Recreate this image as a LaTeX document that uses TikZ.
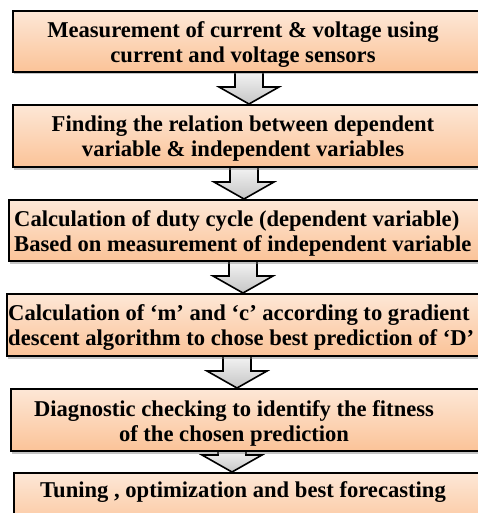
\documentclass[tikz,border=0pt]{standalone}
\usepackage{fontspec}
\setmainfont{Liberation Serif}
\usetikzlibrary{positioning,calc,backgrounds,shadows}
\definecolor{boxTop}{HTML}{FDE7D6}
\definecolor{boxBot}{HTML}{FBC398}

% block arrow from the bottom of #2 to the top of #3, centred at x=#1
\newcommand{\stepArrow}[3]{%
  \path (#1,0 |- #2.south) coordinate (at) (#1,0 |- #3.north) coordinate (ab);
  \draw[flowarr] ([xshift=-14pt,yshift=2pt]at) -- ([xshift=-14pt,yshift=17pt]ab)
    -- ([xshift=-30pt,yshift=17pt]ab) -- (ab) -- ([xshift=30pt,yshift=17pt]ab)
    -- ([xshift=14pt,yshift=17pt]ab) -- ([xshift=14pt,yshift=2pt]at);}

\begin{document}
\begin{tikzpicture}[x=1pt, y=1pt,
  stepbox/.style={draw=black,line width=2pt,top color=boxTop,bottom color=boxBot,anchor=north west,inner sep=0pt,
    drop shadow={shadow xshift=0.5pt,shadow yshift=-2.5pt,opacity=.45}},
  steptext/.style={font=\bfseries\fontsize{22.6}{25}\selectfont,inner sep=0pt,align=center,yshift=-3pt},
  flowarr/.style={draw=black,line width=1.6pt,top color=gray!8,bottom color=gray!45,line join=miter}]
  \useasboundingbox (0,0) rectangle (477,-513);
  % boxes
  \node[stepbox,minimum width=478pt,minimum height=61pt] (b1) at (12,-10) {};
  \node[stepbox,minimum width=478pt,minimum height=62pt] (b2) at (12,-104) {};
  \node[stepbox,minimum width=482pt,minimum height=61pt] (b3) at (8,-199) {};
  \node[stepbox,minimum width=484pt,minimum height=62pt] (b4) at (6,-293) {};
  \node[stepbox,minimum width=480pt,minimum height=62pt] (b5) at (10,-388) {};
  \node[stepbox,minimum width=477pt,minimum height=60pt] (b6) at (13,-472) {};
  % texts
  \node[steptext] (t1) at (243,0 |- b1) {Measurement of current \& voltage using\\current and voltage sensors};
  \node[steptext] (t2) at (243,0 |- b2) {Finding the relation between dependent\\variable \& independent variables};
  \node[steptext,align=left,anchor=west] (t3) at (14,0 |- b3) {Calculation of duty cycle (dependent variable)\\Based on measurement of independent variable};
  \node[steptext,align=left,anchor=west] (t4) at (8,0 |- b4) {Calculation of `m' and `c' according to gradient\\descent algorithm to chose best prediction of `D'};
  \node[steptext] (t5) at (234,0 |- b5) {Diagnostic checking to identify the fitness\\of the chosen prediction};
  \node[steptext] (t6) at (243,-489) {Tuning , optimization and best forecasting};
  % arrows and page
  \begin{scope}[on background layer]
    \fill[white] (0,0) rectangle (477,-513);
    \stepArrow{249}{b1}{b2}
    \stepArrow{244}{b2}{b3}
    \stepArrow{243}{b3}{b4}
    \stepArrow{237}{b4}{b5}
    \stepArrow{232}{b5}{b6}
  \end{scope}
\end{tikzpicture}
\end{document}
